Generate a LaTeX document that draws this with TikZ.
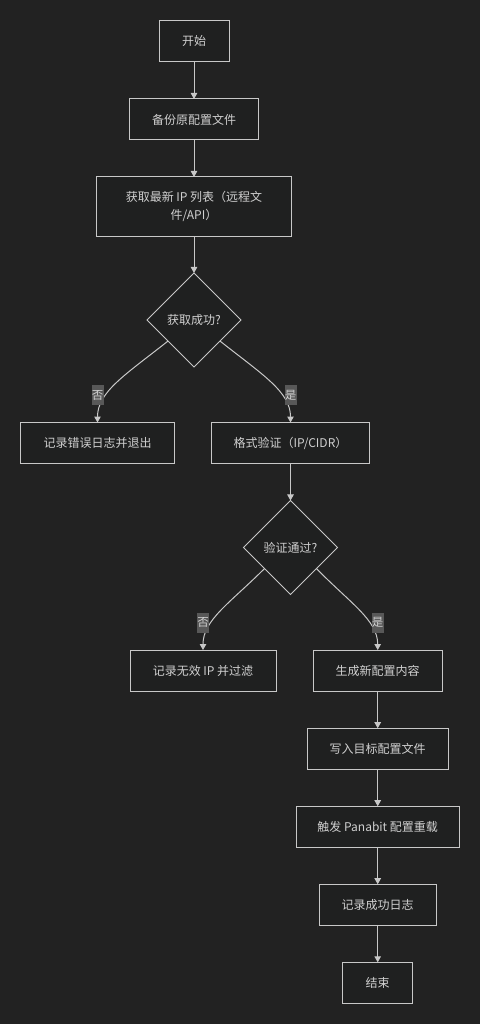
\documentclass[tikz,border=0pt]{standalone}
\usepackage{fontspec}
\setmainfont{Noto Sans CJK SC}
\usetikzlibrary{shapes.geometric,arrows.meta}
\definecolor{bgc}{HTML}{222222}
\definecolor{boxfill}{HTML}{1F2020}
\definecolor{edgec}{HTML}{C8C8C8}
\definecolor{txtc}{HTML}{D0D0D0}
\definecolor{lblbg}{HTML}{585858}
\tikzset{
  stepbox/.style={draw=edgec, line width=1pt, fill=boxfill, text=txtc, font=\fontsize{12}{18.3}\selectfont, inner sep=0pt, outer sep=0pt, minimum height=41pt, align=center},
  decbox/.style={diamond, draw=edgec, line width=1pt, fill=boxfill, text=txtc, font=\fontsize{12}{18}\selectfont, inner sep=0pt, outer sep=0pt, minimum width=94pt, minimum height=94pt},
  lbl/.style={fill=lblbg, text=txtc, font=\fontsize{11.5}{14}\selectfont, inner sep=0pt, minimum width=12pt, minimum height=20pt},
  conn/.style={draw=edgec, line width=1pt, -{Triangle[length=6pt,width=6.5pt]}},
}
\begin{document}
\begin{tikzpicture}[x=1pt,y=-1pt]
\fill[bgc] (0,0) rectangle (480,1024);
\useasboundingbox (0,0) rectangle (480,1024);

\node[stepbox, minimum width=70pt] (start) at (194,41) {开始};
\node[stepbox, minimum width=129pt] (backup) at (194,119.5) {备份原配置文件};
\node[stepbox, minimum width=195pt, minimum height=59pt] (fetch) at (194,206.5) {获取最新 IP 列表（远程文\\件/API）};
\node[decbox] (ok1) at (194,320) {获取成功?};
\node[stepbox, minimum width=154pt] (err) at (97.5,443) {记录错误日志并退出};
\node[stepbox, minimum width=158pt] (fmt) at (290.5,443) {格式验证（IP/CIDR）};
\node[decbox] (ok2) at (290.5,547.5) {验证通过?};
\node[stepbox, minimum width=146pt] (bad) at (203,670.5) {记录无效 IP 并过滤};
\node[stepbox, minimum width=129pt] (gen) at (377.7,670.5) {生成新配置内容};
\node[stepbox, minimum width=141pt] (write) at (377.7,748.7) {写入目标配置文件};
\node[stepbox, minimum width=163pt] (reload) at (377.7,826.7) {触发 Panabit 配置重载};
\node[stepbox, minimum width=117pt] (logok) at (377.7,904.7) {记录成功日志};
\node[stepbox, minimum width=70pt] (end) at (377.7,982.8) {结束};

\draw[conn] (start) -- (backup);
\draw[conn] (backup) -- (fetch);
\draw[conn] (fetch) -- (ok1);
\draw[conn] (ok1.-141) .. controls (125,375) and (97.5,392) .. (err.north);
\draw[conn] (ok1.-39) .. controls (263,375) and (290.5,392) .. (fmt.north);
\draw[conn] (fmt) -- (ok2);
\draw[conn] (ok2.-141) .. controls (230,603) and (203,620) .. (bad.north);
\draw[conn] (ok2.-39) .. controls (350,603) and (377.7,620) .. (gen.north);
\draw[conn] (gen) -- (write);
\draw[conn] (write) -- (reload);
\draw[conn] (reload) -- (logok);
\draw[conn] (logok) -- (end);

\node[lbl] (l1) at (97.5,395) {否};
\node[lbl] (l2) at (290.5,395) {是};
\node[lbl] (l3) at (203,622.5) {否};
\node[lbl] (l4) at (377.7,622.5) {是};
\end{tikzpicture}
\end{document}
